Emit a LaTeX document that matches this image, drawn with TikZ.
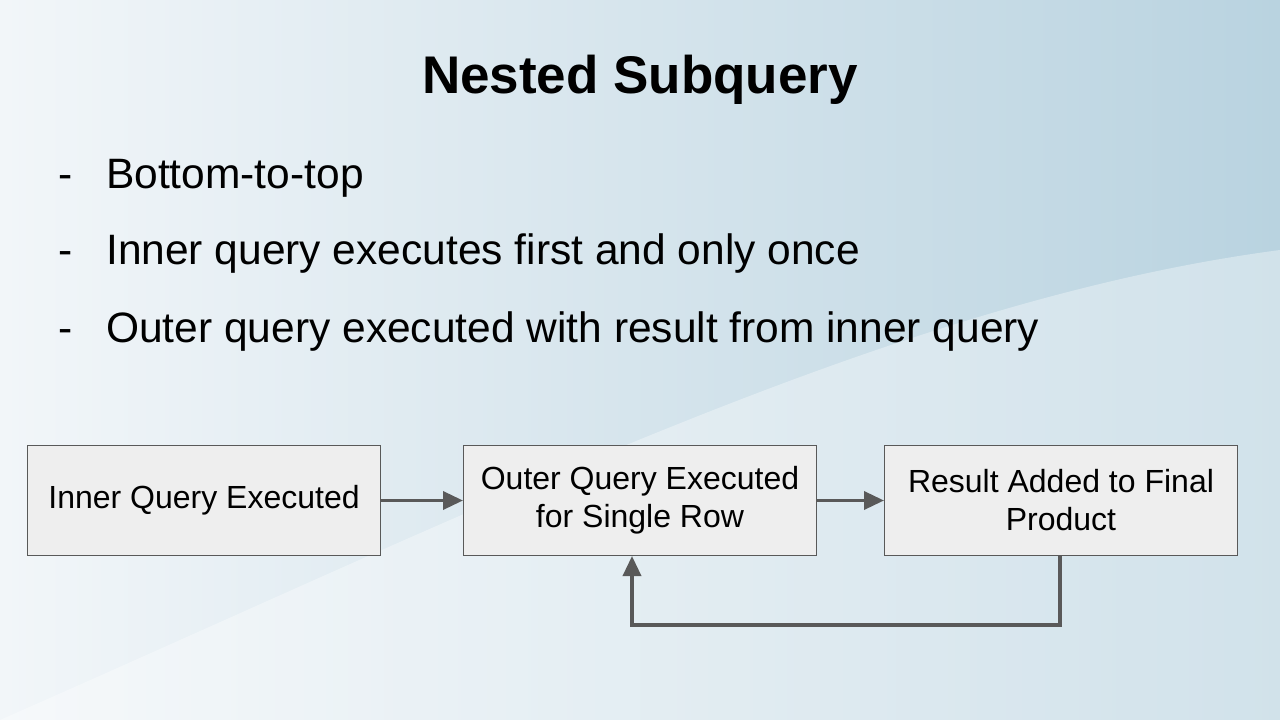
\documentclass[tikz,border=0pt]{standalone}
\usepackage{fontspec}
\setmainfont{Liberation Sans}
\usetikzlibrary{arrows.meta}
\definecolor{bgA}{HTML}{F2F6F9}
\definecolor{bgB}{HTML}{B9D3E0}
\definecolor{boxfill}{HTML}{EEEEEE}
\definecolor{edge}{HTML}{595959}
\begin{document}
\begin{tikzpicture}[x=1pt,y=-1pt,
  box/.style={draw=edge,line width=1pt,fill=boxfill,minimum width=353pt,minimum height=110pt,anchor=north west,align=center,font=\fontsize{32}{38}\selectfont,inner sep=0pt},
  conn/.style={draw=edge,line width=3.5pt,-{Triangle[length=20pt,width=18pt]}},
  bul/.style={anchor=base west,font=\fontsize{42.5}{50}\selectfont,inner sep=0pt}]
\useasboundingbox (0,0) rectangle (1280,720);
\shade[left color=bgA,right color=bgB] (0,0) rectangle (1280,720);
\fill[white,opacity=0.35] (0,720) .. controls (500,500) and (900,300) .. (1280,250) -- (1280,720) -- cycle;
\node[font=\bfseries\fontsize{53}{60}\selectfont,anchor=base,inner sep=0pt] (title) at (640,93) {Nested Subquery};
\node[bul] (d1) at (58,188) {-};
\node[bul] (b1) at (106,188) {Bottom-to-top};
\node[bul] (d2) at (58,264) {-};
\node[bul] (b2) at (106,264) {Inner query executes first and only once};
\node[bul] (d3) at (58,342) {-};
\node[bul] (b3) at (106,342) {Outer query executed with result from inner query};
\node[box] (a) at (27,445) {Inner Query Executed};
\node[box] (b) at (463,445) {Outer Query Executed\\for Single Row};
\node[box] (c) at (884,445) {Result Added to Final\\Product};
\draw[conn] (a) -- (b);
\draw[conn] (b) -- (c);
\coordinate (p0) at (1060,555);
\coordinate (p1) at (1060,625);
\coordinate (p2) at (632,625);
\draw[conn] (p0) -- (p1) -- (p2) -- (b.south -| p2);
\end{tikzpicture}
\end{document}
